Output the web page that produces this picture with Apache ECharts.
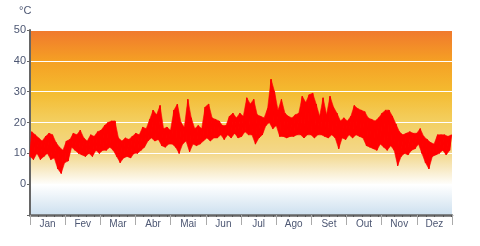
<!DOCTYPE html>
<html><head><meta charset="utf-8">
<script src="https://cdn.jsdelivr.net/npm/echarts@6/dist/echarts.min.js"></script>
<style>html,body{margin:0;padding:0;background:#fff}#c{width:480px;height:246px}</style>
</head><body><div id="c"></div>
<script>
// month labels (category axis)
const months = ['Jan','Fev','Mar','Abr','Mai','Jun','Jul','Ago','Set','Out','Nov','Dez'];
// y tick values
const yTicks = [0, 10, 20, 30, 40, 50];
// daily range read in 3-day blocks (°C): lows and highs
const blockDays = 3;
const lows = [9,8,10,8,9,10,8,8.5,5,3.5,7,7.5,12,11,10,9.5,9,10,9,11,
  10,11,11,12,11,9,7,8.5,9,8.5,10,10,11,12,14,15,14,14.5,12.5,12,
  13,13,12,10,13,14,10.5,13,12.5,13,14,15,14,15,15,16,14.5,16,15,16.5,
  15,15.5,17,16,16,13,15,16,19,20,18,19,15.5,15.5,15,15.5,15.5,16,16,15,
  16,16,15,16,16,15.5,15,16,15,11.5,15,14.5,16,15,16,15.5,15,12.5,12,11.5,
  11,13,12,11,12.5,11,6,9,10,9.5,11,11.5,13,10,7,5,9,9.5,10,11,9.5,11];
const highs = [17,16,15,14,15.5,16.5,16,13.5,12,11,14,14.5,16.5,16,17.5,15,14,16,15.5,17,
  17.5,19,20,20.5,20.5,15,14,15,14.5,15.5,16.5,16,18.5,18,21,24,22.5,25.5,18,18.5,
  17.5,24,26,20,18.5,27.5,21.5,18,19,18,25,26,21.5,21,20.5,19,19,22,23,21.5,
  23,22,28,26,27.5,22.5,22,21.5,24.5,34,30,24,27.5,23,22,21.5,22.5,23,28.5,26.5,
  29,29.5,26,22,28,22.5,28.5,25,23,20.5,21.5,20.5,22,25.5,24.5,24,23.5,21.5,21,20.5,
  21.5,23,24,24,22,19.5,17,16,16.5,17,16.5,16.5,18,15.5,14.5,13.5,13,16,16,16,15.5,16];

// zigzag: low then high within each block
const zig = [];
// band items: [xLow, low, xHigh, high]
const band = [];
for (let k = 0; k < lows.length; k++) {
  const xl = k * blockDays, xh = Math.min(k * blockDays + blockDays / 2, 365);
  zig.push([xl, lows[k]]);
  zig.push([xh, highs[k]]);
  band.push([xl, lows[k], xh, highs[k]]);
}

const labelColor = '#4d5773';
const font = 'Liberation Sans';
const red = '#ff0000';
const chart = echarts.init(document.getElementById('c'));
chart.setOption({
  animation: false,
  graphic: [{ type: 'text', left: 19, top: 5, style: { text: '°C', fill: labelColor, font: '11px "Liberation Sans"' } }],
  grid: {
    left: 30, right: 28, top: 30, bottom: 31, show: true, borderWidth: 0,
    backgroundColor: new echarts.graphic.LinearGradient(0, 0, 0, 1, [
      { offset: 0, color: '#f0782d' },
      { offset: 0.168, color: '#f5a024' },
      { offset: 0.335, color: '#f4bb30' },
      { offset: 0.503, color: '#f3d063' },
      { offset: 0.67, color: '#f3d88c' },
      { offset: 0.757, color: '#f8ebc8' },
      { offset: 0.838, color: '#ffffff' },
      { offset: 1, color: '#cde0ef' }
    ])
  },
  xAxis: [{
    type: 'value', min: 0, max: 365, interval: 7,
    axisLine: { show: true, onZero: false, lineStyle: { color: '#666', width: 2.5 } },
    axisTick: { show: true, length: 2, lineStyle: { color: '#555' } },
    axisLabel: { show: false }, splitLine: { show: false }
  }, {
    type: 'category', data: months, position: 'bottom', boundaryGap: true,
    axisLine: { show: false, onZero: false },
    axisTick: { show: true, length: 10, lineStyle: { color: '#aaa' } },
    axisLabel: { color: labelColor, fontFamily: font, fontSize: 10, margin: 4 },
    splitLine: { show: false }
  }],
  yAxis: {
    type: 'value', min: -10, max: 50, interval: 10,
    axisLine: { show: true, lineStyle: { color: '#666', width: 2 } },
    axisTick: { show: true, length: 3, lineStyle: { color: '#666' } },
    axisLabel: { color: labelColor, fontFamily: font, fontSize: 11, margin: 4,
      formatter: v => yTicks.indexOf(v) >= 0 ? String(v) : '' },
    splitLine: { show: true, lineStyle: { color: '#ffffff', width: 1 } }
  },
  series: [{
    type: 'custom', xAxisIndex: 0, data: band, z: 2,
    encode: { x: [0, 2], y: [1, 3] },
    renderItem: function (params, api) {
      const i = params.dataIndex;
      if (i >= band.length - 1) return null;
      const a = band[i], b = band[i + 1];
      const pts = [
        api.coord([a[2], a[3]]), api.coord([b[2], b[3]]),
        api.coord([b[0], b[1]]), api.coord([a[0], a[1]])
      ];
      return { type: 'polygon', shape: { points: pts },
        style: { fill: red, stroke: red, lineWidth: 0.6 } };
    }
  }, {
    type: 'line', xAxisIndex: 0, data: zig, showSymbol: false,
    lineStyle: { color: red, width: 1 }, z: 3
  }]
});
</script></body></html>
